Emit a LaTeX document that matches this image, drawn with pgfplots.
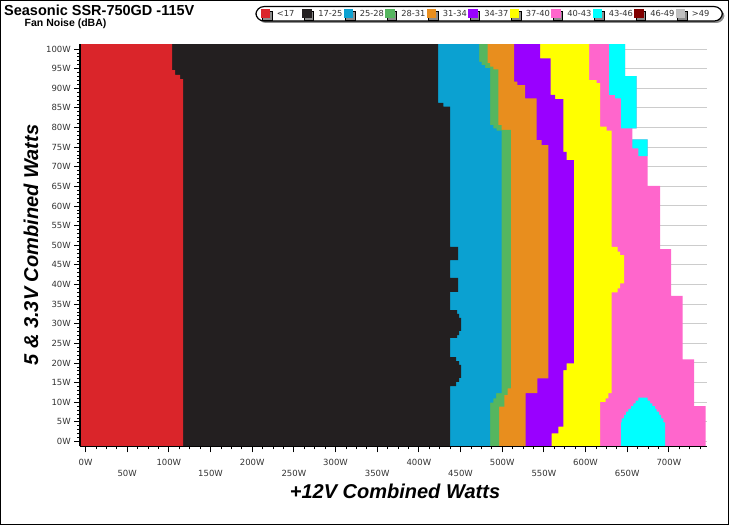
\documentclass[border=0pt]{standalone}
\usepackage{fontspec}
\setmainfont{Liberation Sans}
\newfontfamily\tickfont{DejaVu Sans}
\usepackage{pgfplots}
\pgfplotsset{compat=1.18}
\usetikzlibrary{shadows}

\definecolor{cRed}{RGB}{218,37,42}
\definecolor{cBlack}{RGB}{35,31,32}
\definecolor{cBlue}{RGB}{11,161,209}
\definecolor{cGreen}{RGB}{85,182,95}
\definecolor{cOrange}{RGB}{232,142,30}
\definecolor{cPurple}{RGB}{153,0,255}
\definecolor{cYellow}{RGB}{255,255,0}
\definecolor{cPink}{RGB}{255,102,204}
\definecolor{cCyan}{RGB}{0,255,255}
\definecolor{cDark}{RGB}{128,0,0}
\definecolor{cGrey}{RGB}{192,192,192}

% grid under the fills, axis lines over them
\pgfplotsset{
  layers/gridlow/.define layer set={axis background,axis grid,main,axis ticks,axis lines,axis tick labels,axis descriptions,axis foreground}{/pgfplots/layers/standard},
}
\newcommand{\legtxt}[1]{\makebox[32pt][l]{\hspace{6.5pt}#1}}

\begin{document}
\begin{tikzpicture}
\begin{axis}[
  name=ax,
  set layers=gridlow,
  scale only axis,
  width=626.9pt, height=402.3pt,
  xmin=-6.25, xmax=746, ymin=-1.25, ymax=101.25,
  axis lines*=left,
  axis line style={line width=1.6pt, black},
  /pgf/number format/assume math mode=true,
  ytick={0,5,...,100},
  minor ytick={0,1,...,100},
  xtick={0,100,...,700},
  extra x ticks={50,150,...,650},
  extra x tick style={xticklabel style={yshift=-11pt}},
  minor xtick={0,12.5,...,743.75},
  xticklabel={\pgfmathprintnumber{\tick}W},
  yticklabel={\pgfmathprintnumber{\tick}W},
  xticklabel style={yshift=-3pt},
  tick align=outside,
  major tick length=6pt, minor tick length=3pt,
  tick style={black, line width=0.8pt},
  ticklabel style={font=\tickfont\fontsize{8.5}{10}\selectfont, text=black!80},
  ymajorgrids,
  grid style={color=black!20, line width=1pt},
  xlabel={+12V Combined Watts},
  ylabel={5 \& 3.3V Combined Watts},
  xlabel style={at={(axis description cs:0.502,-0.1109)}, anchor=center, font=\bfseries\itshape\fontsize{20}{23}\selectfont},
  ylabel style={at={(axis description cs:-0.0786,0.5006)}, anchor=center, rotate=0, font=\bfseries\itshape\fontsize{20}{23}\selectfont},
  sq/.style={legend image code/.code={\path[fill=#1, draw=none, sharp corners] (0pt,-4.6pt) rectangle (9.5pt,4.6pt);}},
  legend columns=11,
  legend style={at={(axis description cs:1.0252,1.0947)}, anchor=north east,
    draw=black, line width=1.2pt, rounded corners=8pt, fill=white,
    drop shadow={shadow xshift=2pt, shadow yshift=-2pt, fill=black!45, opacity=1},
    inner xsep=5pt, inner ysep=2.6pt,
    font=\tickfont\fontsize{8.3}{10}\selectfont, text=black!80,
    nodes={inner sep=0pt, anchor=west}},
]

% 40-43 (outer edge of the coloured area)
\addplot[fill=cPink, draw=none, forget plot] coordinates {
  (-6.25,-1.25) (744,-1.25) (744,9.0) (730.2,9.0) (730.2,20.9) (716.6,20.9)
  (716.6,37.1) (702.6,37.1) (702.6,49.0) (689.4,49.0) (689.4,65.1) (674.6,65.1)
  (674.6,77.0) (656.2,77.0) (656.2,79.8) (661.4,79.8) (661.4,93.1) (647.4,93.1)
  (647.4,101.25) (-6.25,101.25)} -- cycle;

% 43-46
\addplot[fill=cCyan, draw=none, forget plot] coordinates {
  (642.6,79.8) (642.6,87.4) (635.4,87.4) (635.4,88.3) (628.2,88.3) (628.2,101.25)
  (647.4,101.25) (647.4,93.1) (661.4,93.1) (661.4,79.8)} -- cycle;
\addplot[fill=cCyan, draw=none, forget plot] coordinates {
  (663.4,72.7) (663.4,74.7) (656.2,74.7) (656.2,77.0) (674.6,77.0) (674.6,72.7)} -- cycle;
\addplot[fill=cCyan, draw=none, forget plot] coordinates {
  (642.6,-1.25) (642.6,4.9) (643.4,4.9) (643.4,5.9) (646.2,5.9) (646.2,6.75)
  (648.6,6.75) (648.6,7.6) (651.4,7.6) (651.4,8.3) (654.6,8.3) (654.6,9.0)
  (657.4,9.0) (657.4,9.7) (660.2,9.7) (660.2,10.4) (663.4,10.4) (663.4,11.16)
  (674.6,11.16) (674.6,10.4) (677.4,10.4) (677.4,9.7) (680.2,9.7) (680.2,9.0)
  (683.4,9.0) (683.4,8.3) (685.4,8.3) (685.4,7.6) (688.2,7.6) (688.2,6.75)
  (690.6,6.75) (690.6,5.9) (693.4,5.9) (693.4,4.9) (695.4,4.9) (695.4,-1.25)} -- cycle;

% 37-40
\addplot[fill=cYellow, draw=none, forget plot] coordinates {
  (-6.25,-1.25) (617.4,-1.25) (617.4,10.1) (624.2,10.1) (624.2,11.0) (627.4,11.0)
  (627.4,12.3) (631.4,12.3) (631.4,38.0) (638.6,38.0) (638.6,39.0) (641.4,39.0)
  (641.4,40.3) (646.2,40.3) (646.2,47.5) (641.4,47.5) (641.4,48.4) (638.6,48.4)
  (638.6,49.6) (631.4,49.6) (631.4,79.2) (625.4,79.2) (625.4,80.2) (617.4,80.2)
  (617.4,91.3) (613.4,91.3) (613.4,92.1) (604.2,92.1) (604.2,101.25) (-6.25,101.25)} -- cycle;

% 34-37
\addplot[fill=cPurple, draw=none, forget plot] coordinates {
  (-6.25,-1.25) (559.4,-1.25) (559.4,2.1) (567.4,2.1) (567.4,3.8) (573.4,3.8)
  (573.4,18.2) (577.4,18.2) (577.4,19.9) (586,19.9) (586,71.7) (577.4,71.7)
  (577.4,73.8) (573.4,73.8) (573.4,87.2) (563.4,87.2) (563.4,88.3) (558.2,88.3)
  (558.2,97.6) (545.4,97.6) (545.4,101.25) (-6.25,101.25)} -- cycle;

% 31-34
\addplot[fill=cOrange, draw=none, forget plot] coordinates {
  (-6.25,-1.25) (528,-1.25) (528,12.3) (542.2,12.3) (542.2,16.1) (555.4,16.1)
  (555.4,75.5) (547.4,75.5) (547.4,76.8) (541.4,76.8) (541.4,87.4) (527.4,87.4)
  (527.4,90.8) (518.2,90.8) (518.2,91.7) (514.2,91.7) (514.2,101.25) (-6.25,101.25)} -- cycle;

% 28-31
\addplot[fill=cGreen, draw=none, forget plot] coordinates {
  (-6.25,-1.25) (496.2,-1.25) (496.2,8.9) (502.6,8.9) (502.6,11.85) (506.6,11.85)
  (506.6,13.55) (510.4,13.55) (510.4,79.4) (499.4,79.4) (499.4,80.6) (495.4,80.6)
  (495.4,94.8) (489.4,94.8) (489.4,95.5) (485.4,95.5) (485.4,96.4) (482.6,96.4)
  (482.6,101.25) (-6.25,101.25)} -- cycle;

% 25-28
\addplot[fill=cBlue, draw=none, forget plot] coordinates {
  (-6.25,-1.25) (485.4,-1.25) (485.4,9.9) (489.4,9.9) (489.4,11.0) (492.6,11.0)
  (492.6,12.3) (499.4,12.3) (499.4,79.2) (493.4,79.2) (493.4,79.8) (489.4,79.8)
  (489.4,80.6) (485.4,80.6) (485.4,95.1) (479.4,95.1) (479.4,95.9) (475.4,95.9)
  (475.4,96.7) (472.2,96.7) (472.2,101.25) (-6.25,101.25)} -- cycle;

% 17-25
\addplot[fill=cBlack, draw=none, forget plot] coordinates {
  (-6.25,-1.25) (437.4,-1.25) (437.4,14.1) (444.6,14.1) (444.6,15.2) (448.2,15.2)
  (448.2,16.2) (450.6,16.2) (450.6,19.5) (448.2,19.5) (448.2,20.5) (444.6,20.5)
  (444.6,21.5) (437.4,21.5) (437.4,26.4) (445.8,26.4) (445.8,27.1) (448.2,27.1)
  (448.2,28.2) (450.6,28.2) (450.6,31.5) (448.2,31.5) (448.2,32.5) (445.8,32.5)
  (445.8,33.5) (437.4,33.5) (437.4,38.1) (447,38.1) (447,41.7) (437.4,41.7)
  (437.4,46.2) (447,46.2) (447,49.6) (437.4,49.6) (437.4,85.3) (429.4,85.3)
  (429.4,86.3) (423,86.3) (423,101.25) (-6.25,101.25)} -- cycle;

% <17
\addplot[fill=cRed, draw=none, forget plot] coordinates {
  (-6.25,-1.25) (117,-1.25) (117,92.3) (113.4,92.3) (113.4,93.4) (107.4,93.4)
  (107.4,94.6) (103.8,94.6) (103.8,101.25) (-6.25,101.25)} -- cycle;

\addlegendimage{sq=cRed}\addlegendentry{\legtxt{<17}}
\addlegendimage{sq=cBlack}\addlegendentry{\legtxt{17-25}}
\addlegendimage{sq=cBlue}\addlegendentry{\legtxt{25-28}}
\addlegendimage{sq=cGreen}\addlegendentry{\legtxt{28-31}}
\addlegendimage{sq=cOrange}\addlegendentry{\legtxt{31-34}}
\addlegendimage{sq=cPurple}\addlegendentry{\legtxt{34-37}}
\addlegendimage{sq=cYellow}\addlegendentry{\legtxt{37-40}}
\addlegendimage{sq=cPink}\addlegendentry{\legtxt{40-43}}
\addlegendimage{sq=cCyan}\addlegendentry{\legtxt{43-46}}
\addlegendimage{sq=cDark}\addlegendentry{\legtxt{46-49}}
\addlegendimage{sq=cGrey}\addlegendentry{\legtxt{>49}}
\end{axis}

\node[anchor=base west, inner sep=0pt, font=\bfseries\fontsize{14.5}{16}\selectfont]
  at ([shift={(-76.3pt,430.9pt)}]ax.south west) {Seasonic SSR-750GD -115V};
\node[anchor=base west, inner sep=0pt, font=\bfseries\fontsize{10.5}{12}\selectfont]
  at ([shift={(-55.8pt,419.9pt)}]ax.south west) {Fan Noise (dBA)};

\pgfresetboundingbox
\path[use as bounding box] ([shift={(-80.3pt,-78.6pt)}]ax.south west) rectangle ([shift={(648.7pt,446.4pt)}]ax.south west);
\draw[line width=1.4pt] ([shift={(-79.6pt,-77.9pt)}]ax.south west) rectangle ([shift={(648.0pt,445.7pt)}]ax.south west);
\end{tikzpicture}
\end{document}
